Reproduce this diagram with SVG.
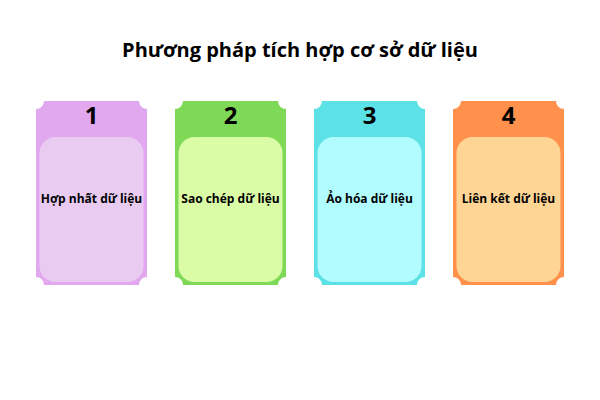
<svg xmlns="http://www.w3.org/2000/svg" xmlns:xlink="http://www.w3.org/1999/xlink" width="600" height="400" viewBox="0 0 600 400">
<style>
.title{font-family:"Open Sans","Noto Sans","DejaVu Sans",sans-serif;font-weight:700;font-size:20px;fill:#000;text-anchor:middle}
.num{font-family:"Open Sans","Noto Sans","DejaVu Sans",sans-serif;font-weight:700;font-size:24px;fill:#000;text-anchor:middle}
.lbl{font-family:"Open Sans","Noto Sans","DejaVu Sans",sans-serif;font-weight:700;font-size:12px;fill:#000;text-anchor:middle}
</style>
<defs>
<path id="card" d="M8,0 H103 A8 8 0 0 0 111,8 V176 A8 8 0 0 0 103,184 H8 A8 8 0 0 0 0,176 V8 A8 8 0 0 0 8,0 Z"/>
<rect id="inner" x="3.5" y="36" width="104" height="145" rx="16" ry="16"/>
</defs>
<rect width="600" height="400" fill="#fff"/>
<text class="title" x="300" y="57">Phương pháp tích hợp cơ sở dữ liệu</text>
<g id="node1" transform="translate(36,101)">
<use xlink:href="#card" fill="#E2A8EF"/>
<use xlink:href="#inner" fill="#E9CBF1"/>
<text class="num" x="55.5" y="23">1</text>
<text class="lbl" x="55.5" y="102">Hợp nhất dữ liệu</text>
</g>
<g id="node2" transform="translate(175,101)">
<use xlink:href="#card" fill="#7ED957"/>
<use xlink:href="#inner" fill="#DAFCA6"/>
<text class="num" x="55.5" y="23">2</text>
<text class="lbl" x="55.5" y="102">Sao chép dữ liệu</text>
</g>
<g id="node3" transform="translate(314,101)">
<use xlink:href="#card" fill="#5CE1E6"/>
<use xlink:href="#inner" fill="#B0FCFF"/>
<text class="num" x="55.5" y="23">3</text>
<text class="lbl" x="55.5" y="102">Ảo hóa dữ liệu</text>
</g>
<g id="node4" transform="translate(453,101)">
<use xlink:href="#card" fill="#FF914D"/>
<use xlink:href="#inner" fill="#FFD595"/>
<text class="num" x="55.5" y="23">4</text>
<text class="lbl" x="55.5" y="102">Liên kết dữ liệu</text>
</g>
<g id="connectors"/>
</svg>
